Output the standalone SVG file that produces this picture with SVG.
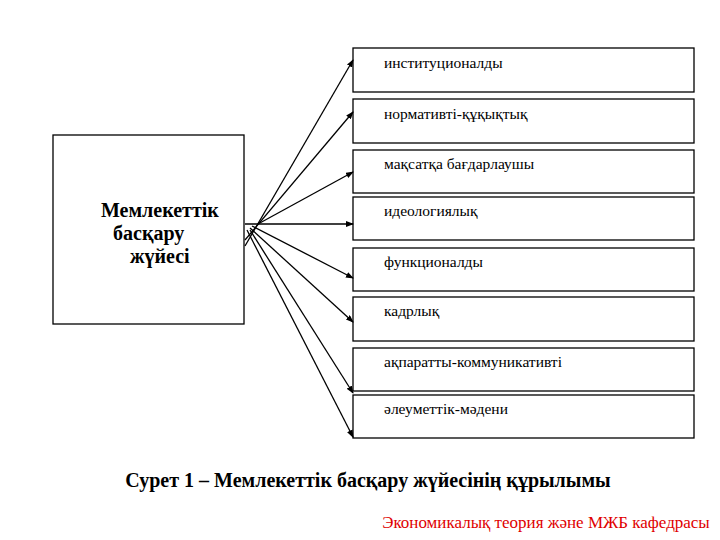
<svg xmlns="http://www.w3.org/2000/svg" width="720" height="540" viewBox="0 0 720 540">
<style>
.b{fill:#fff;stroke:#000;stroke-width:1.3}
.s{font-family:"Liberation Serif","Times New Roman","DejaVu Serif",serif}
.t{font-size:15.5px;fill:#000}
.c line{stroke:#000;stroke-width:1.3;marker-end:url(#a)}
</style>
<defs><marker id="a" markerWidth="8" markerHeight="6" refX="7" refY="3" orient="auto" markerUnits="userSpaceOnUse"><path d="M0,0L8,3L0,6z"/></marker></defs>
<rect width="720" height="540" fill="#fff"/>
<g id="main"><rect class="b" x="53" y="135" width="191" height="189"/>
<text class="s" font-weight="bold" font-size="20"><tspan x="101" y="217">Мемлекеттік</tspan><tspan x="113" y="240">басқару</tspan><tspan x="130" y="263">жүйесі</tspan></text></g>
<g id="n1"><rect class="b" x="353" y="48" width="341" height="44"/><text class="s t" x="384" y="68">институционалды</text></g>
<g id="n2"><rect class="b" x="353" y="99" width="341" height="44"/><text class="s t" x="384" y="119">нормативті-құқықтық</text></g>
<g id="n3"><rect class="b" x="353" y="150" width="341" height="43"/><text class="s t" x="384" y="169">мақсатқа бағдарлаушы</text></g>
<g id="n4"><rect class="b" x="353" y="197" width="341" height="43"/><text class="s t" x="384" y="216">идеологиялық</text></g>
<g id="n5"><rect class="b" x="353" y="248" width="341" height="43"/><text class="s t" x="384" y="267">функционалды</text></g>
<g id="n6"><rect class="b" x="353" y="297" width="341" height="44"/><text class="s t" x="384" y="316">кадрлық</text></g>
<g id="n7"><rect class="b" x="353" y="348" width="341" height="43"/><text class="s t" x="384" y="367">ақпаратты-коммуникативті</text></g>
<g id="n8"><rect class="b" x="353" y="395" width="341" height="43"/><text class="s t" x="384" y="414">әлеуметтік-мәдени</text></g>
<g class="c">
<line x1="245" y1="246" x2="353" y2="60"/>
<line x1="245" y1="240" x2="353" y2="112"/>
<line x1="258" y1="224" x2="353" y2="172"/>
<line x1="245" y1="224" x2="353" y2="224"/>
<line x1="252" y1="226" x2="353" y2="278"/>
<line x1="250" y1="228" x2="353" y2="322"/>
<line x1="250" y1="230" x2="353" y2="393"/>
<line x1="247" y1="230" x2="353" y2="437"/>
</g>
<text class="s" x="368" y="487" text-anchor="middle" font-weight="bold" font-size="20">Сурет 1 – Мемлекеттік басқару жүйесінің құрылымы</text>
<text class="s" x="546" y="528" text-anchor="middle" font-size="17" fill="#e00000">Экономикалық теория және МЖБ кафедрасы</text>
</svg>
